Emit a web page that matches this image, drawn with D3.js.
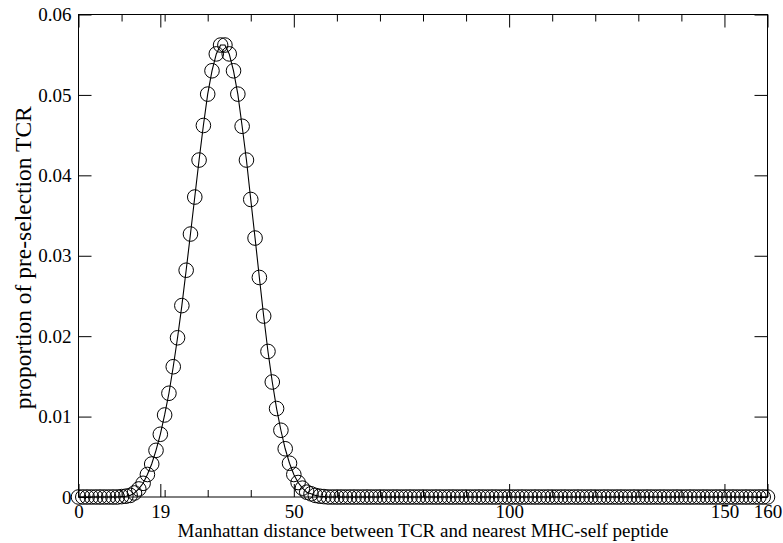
<!DOCTYPE html>
<html>
<head>
<meta charset="utf-8">
<script src="https://cdn.jsdelivr.net/npm/d3@7"></script>
<style>
  body { margin: 0; background: #fff; }
  text { font-family: "Liberation Serif", "DejaVu Serif", serif; fill: #000; }
</style>
</head>
<body>
<div id="chart"></div>
<script>
// proportion of pre-selection TCR at each Manhattan distance 0..160
var proportion = [
  0, 0, 0, 0, 0, 0, 0, 0, 0, 0,
  0.00005, 0.0001, 0.0002, 0.0005, 0.0010, 0.0017, 0.0028, 0.0041, 0.0058, 0.0078,
  0.0102, 0.0129, 0.0162, 0.0198, 0.0238, 0.0282, 0.0327, 0.0373, 0.0419, 0.0462,
  0.0501, 0.0530, 0.0551, 0.0562, 0.0562, 0.0551, 0.0530, 0.0501, 0.0461, 0.0419,
  0.0370, 0.0322, 0.0273, 0.0225, 0.0181, 0.0143, 0.0110, 0.0083, 0.0060, 0.0042,
  0.0028, 0.0018, 0.0011, 0.0006, 0.0004, 0.0002, 0.0001, 0.00005, 0, 0,
  0, 0, 0, 0, 0, 0, 0, 0, 0, 0,
  0, 0, 0, 0, 0, 0, 0, 0, 0, 0,
  0, 0, 0, 0, 0, 0, 0, 0, 0, 0,
  0, 0, 0, 0, 0, 0, 0, 0, 0, 0,
  0, 0, 0, 0, 0, 0, 0, 0, 0, 0,
  0, 0, 0, 0, 0, 0, 0, 0, 0, 0,
  0, 0, 0, 0, 0, 0, 0, 0, 0, 0,
  0, 0, 0, 0, 0, 0, 0, 0, 0, 0,
  0, 0, 0, 0, 0, 0, 0, 0, 0, 0,
  0, 0, 0, 0, 0, 0, 0, 0, 0, 0,
  0
]
var xMajorTicks = [0, 19, 50, 100, 150, 160]
var xMinorTicks = [10, 20, 30, 40, 60, 70, 80, 90, 110, 120, 130, 140]
var yTicks = [0, 0.01, 0.02, 0.03, 0.04, 0.05, 0.06]

var width = 783, height = 543
var margin = {left: 78.5, top: 14.5, right: 15.5, bottom: 46}
var w = width - margin.left - margin.right
var h = height - margin.top - margin.bottom

var svg = d3.select("#chart").append("svg")
    .attr("width", width)
    .attr("height", height)

var x = d3.scaleLinear().domain([0, 160]).range([0, w])
var y = d3.scaleLinear().domain([0, 0.06]).range([h, 0])

var g = svg.append("g").attr("transform", "translate(" + margin.left + "," + margin.top + ")")

var yFmt = function(d) { return d === 0 ? "0" : d3.format(".2f")(d) }

// bottom / top axes, ticks pointing inward
g.append("g").attr("transform", "translate(0," + h + ")")
    .call(d3.axisBottom(x).tickValues(xMajorTicks).tickSizeInner(-13).tickSizeOuter(0).tickPadding(5))
    .call(a => a.selectAll("text").attr("dy", "0.85em"))
g.append("g").attr("transform", "translate(0," + h + ")")
    .call(d3.axisBottom(x).tickValues(xMinorTicks).tickSizeInner(-7).tickSizeOuter(0).tickFormat(""))
g.append("g")
    .call(d3.axisTop(x).tickValues(xMajorTicks).tickSizeInner(-13).tickSizeOuter(0).tickFormat(""))
g.append("g")
    .call(d3.axisTop(x).tickValues(xMinorTicks).tickSizeInner(-7).tickSizeOuter(0).tickFormat(""))

// left / right axes
g.append("g")
    .call(d3.axisLeft(y).tickValues(yTicks).tickFormat(yFmt).tickSizeInner(-13).tickSizeOuter(0).tickPadding(7))
g.append("g").attr("transform", "translate(" + w + ",0)")
    .call(d3.axisRight(y).tickValues(yTicks).tickFormat("").tickSizeInner(-13).tickSizeOuter(0))

svg.selectAll(".tick text").attr("font-size", 19).attr("font-family", "Liberation Serif")
svg.selectAll(".domain").remove()
svg.selectAll(".tick line").attr("stroke", "#000")

// frame
g.append("rect")
    .attr("width", w).attr("height", h)
    .attr("fill", "none").attr("stroke", "#000").attr("stroke-width", 1)

var pts = proportion.map((v, i) => ({d: i, p: v}))

g.append("path")
    .datum(pts)
    .attr("fill", "none")
    .attr("stroke", "#000")
    .attr("stroke-width", 1.1)
    .attr("d", d3.line().x(d => x(d.d)).y(d => y(d.p)))

g.selectAll("circle.pt")
    .data(pts)
    .enter().append("circle")
    .attr("class", "pt")
    .attr("cx", d => x(d.d))
    .attr("cy", d => y(d.p))
    .attr("r", 7.3)
    .attr("fill", "none")
    .attr("stroke", "#000")
    .attr("stroke-width", 1)

// axis titles
svg.append("text")
    .attr("x", margin.left + w / 2)
    .attr("y", 537)
    .attr("text-anchor", "middle")
    .attr("font-size", 19)
    .text("Manhattan distance between TCR and nearest MHC-self peptide")

svg.append("text")
    .attr("transform", "translate(31," + (margin.top + h / 2 + 2) + ") rotate(-90)")
    .attr("text-anchor", "middle")
    .attr("font-size", 23.5)
    .text("proportion of pre-selection TCR")
</script>
</body>
</html>
